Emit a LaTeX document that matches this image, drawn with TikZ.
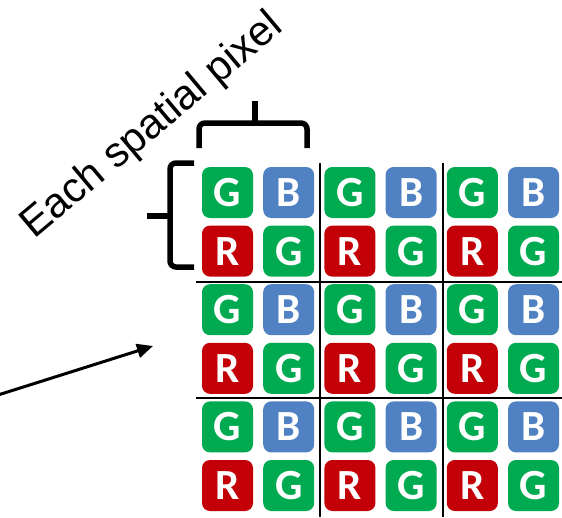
\documentclass[tikz,border=0pt]{standalone}
\usepackage{fontspec}
\setmainfont{Liberation Sans}
\newfontfamily\tilefont{Carlito}
\usetikzlibrary{arrows.meta}
\definecolor{tileG}{RGB}{0,170,80}
\definecolor{tileB}{RGB}{80,130,195}
\definecolor{tileR}{RGB}{195,0,8}
\tikzset{
  tile/.style={rounded corners=8pt, minimum width=51pt, minimum height=51pt,
    inner sep=0pt, text=white, font=\tilefont\bfseries\fontsize{43}{43}\selectfont},
  gtile/.style={tile, fill=tileG},
  btile/.style={tile, fill=tileB},
  rtile/.style={tile, fill=tileR},
  gridline/.style={line width=2.2pt, black},
  brace/.style={line width=5.5pt, black, rounded corners=6pt},
  pointer/.style={line width=3pt, -{Triangle[length=16pt,width=14pt]}},
}
\begin{document}
\begin{tikzpicture}[x=1pt, y=-1pt]
\useasboundingbox (0,0) rectangle (562,517);

% Bayer mosaic: 3x3 spatial pixels, each a 2x2 block G B / R G
\foreach \i in {0,1,2}{
  \foreach \j in {0,1,2}{
    \pgfmathsetmacro{\xa}{227.5+122.4*\i}
    \pgfmathsetmacro{\xb}{288.7+122.4*\i}
    \pgfmathsetmacro{\ya}{192.5+117.2*\j}
    \pgfmathsetmacro{\yb}{251.1+117.2*\j}
    \node[gtile] (g1-\i-\j) at (\xa,\ya) {G};
    \node[btile] (b-\i-\j)  at (\xb,\ya) {B};
    \node[rtile] (r-\i-\j)  at (\xa,\yb) {R};
    \node[gtile] (g2-\i-\j) at (\xb,\yb) {G};
  }
}

% dividers between spatial pixels
\coordinate (v1t) at (320,163);
\coordinate (v1b) at (320,517);
\coordinate (v2t) at (443,163);
\coordinate (v2b) at (443,517);
\coordinate (h1l) at (196,282);
\coordinate (h1r) at (562,282);
\coordinate (h2l) at (196,398);
\coordinate (h2r) at (562,398);
\draw[gridline] (v1t) -- (v1b);
\draw[gridline] (v2t) -- (v2b);
\draw[gridline] (h1l) -- (h1r);
\draw[gridline] (h2l) -- (h2r);

% brace over the first spatial pixel (width)
\coordinate (tb1) at (199,148);
\coordinate (tb2) at (307,148);
\coordinate (tbm) at (255,123);
\coordinate (tbt) at (255,101);
\draw[brace] (tb1) -- (199,123) -- (307,123) -- (tb2);
\draw[line width=5.5pt] (tbm) -- (tbt);

% brace beside the first spatial pixel (height)
\coordinate (lb1) at (194,163);
\coordinate (lb2) at (194,267);
\coordinate (lbm) at (170,216);
\coordinate (lbt) at (147,216);
\draw[brace] (lb1) -- (170,163) -- (170,267) -- (lb2);
\draw[line width=5.5pt] (lbm) -- (lbt);

% label
\node[anchor=base west, inner sep=0pt, rotate=40,
      font=\fontsize{42}{42}\selectfont] (lbl) at (34,240) {Each spatial pixel};

% pointer into the mosaic
\coordinate (pstart) at (-2,395);
\coordinate (pend) at (153,346);
\draw[pointer] (pstart) -- (pend);
\end{tikzpicture}
\end{document}
